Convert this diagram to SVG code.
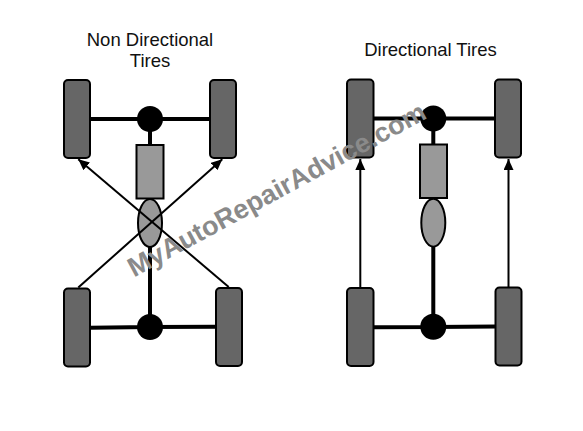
<svg xmlns="http://www.w3.org/2000/svg" width="583" height="431" viewBox="0 0 583 431">
<style>
.title{font-family:"Liberation Sans",Arial,sans-serif;font-size:18.5px;fill:#111;text-anchor:middle}
.tire{fill:#666;stroke:#000;stroke-width:2}
.box{fill:#999;stroke:#000;stroke-width:2}
.hub{fill:#000}
.axle{stroke:#000;stroke-width:4;fill:none}
.arrow{stroke:#000;stroke-width:2;fill:none;marker-end:url(#ah)}
.mark{font-family:"Liberation Sans",Arial,sans-serif;font-size:27px;font-weight:bold;fill:#8a8a8a}
</style>
<defs><marker id="ah" markerUnits="userSpaceOnUse" markerWidth="13" markerHeight="12" refX="11" refY="5" orient="auto"><path d="M0 0L11 5L0 10Z" fill="#000"/></marker></defs>
<rect width="583" height="431" fill="#fff"/>
<g id="title-left"><text class="title" x="150" y="45.5">Non Directional</text><text class="title" x="150" y="66.5">Tires</text></g>
<g id="title-right"><text class="title" x="430.5" y="55.5">Directional Tires</text></g>
<g id="tire-lf"><rect class="tire" x="64" y="80" width="26" height="78" rx="4"/></g>
<g id="tire-rf"><rect class="tire" x="210" y="80" width="26" height="78" rx="4"/></g>
<g id="tire-lr"><rect class="tire" x="64" y="288.5" width="26" height="78" rx="4"/></g>
<g id="tire-rr"><rect class="tire" x="216" y="288" width="26" height="78" rx="4"/></g>
<g id="hub-front-left"><circle class="hub" cx="150" cy="119" r="13"/></g>
<g id="hub-rear-left"><circle class="hub" cx="150" cy="327" r="13"/></g>
<g id="engine-left"><rect class="box" x="136.5" y="145" width="27" height="53.5"/></g>
<g id="trans-left"><ellipse class="box" cx="150" cy="223" rx="12" ry="24"/></g>
<g id="tire2-lf"><rect class="tire" x="347" y="79.5" width="26.5" height="78" rx="4"/></g>
<g id="tire2-rf"><rect class="tire" x="495" y="79.5" width="26" height="78" rx="4"/></g>
<g id="tire2-lr"><rect class="tire" x="347" y="288" width="26.5" height="78" rx="4"/></g>
<g id="tire2-rr"><rect class="tire" x="495.5" y="287.5" width="26" height="78" rx="4"/></g>
<g id="hub-front-right"><circle class="hub" cx="433.3" cy="118.5" r="13"/></g>
<g id="hub-rear-right"><circle class="hub" cx="433.3" cy="326.7" r="13"/></g>
<g id="engine-right"><rect class="box" x="420" y="144.5" width="27" height="53.5"/></g>
<g id="trans-right"><ellipse class="box" cx="433.3" cy="222.7" rx="12" ry="24"/></g>
<g id="connectors">
<path class="axle" d="M90 119H210M150 119V144M90 327.7L150 327L216 326.7M150 247V327"/>
<path class="axle" d="M374 118.5H495M433.3 118V144M374 327.3L433.3 327L496 326.5M433.3 247V327"/>
<path class="arrow" d="M228.7 287L78.3 159.3"/>
<path class="arrow" d="M78.3 287.5L222.3 159.3"/>
<path class="arrow" d="M360.3 288V159"/>
<path class="arrow" d="M508.5 287V159"/>
</g>
<g id="watermark"><text class="mark" transform="translate(134 277.5) rotate(-28.5)">MyAutoRepairAdvice.com</text></g>
</svg>
